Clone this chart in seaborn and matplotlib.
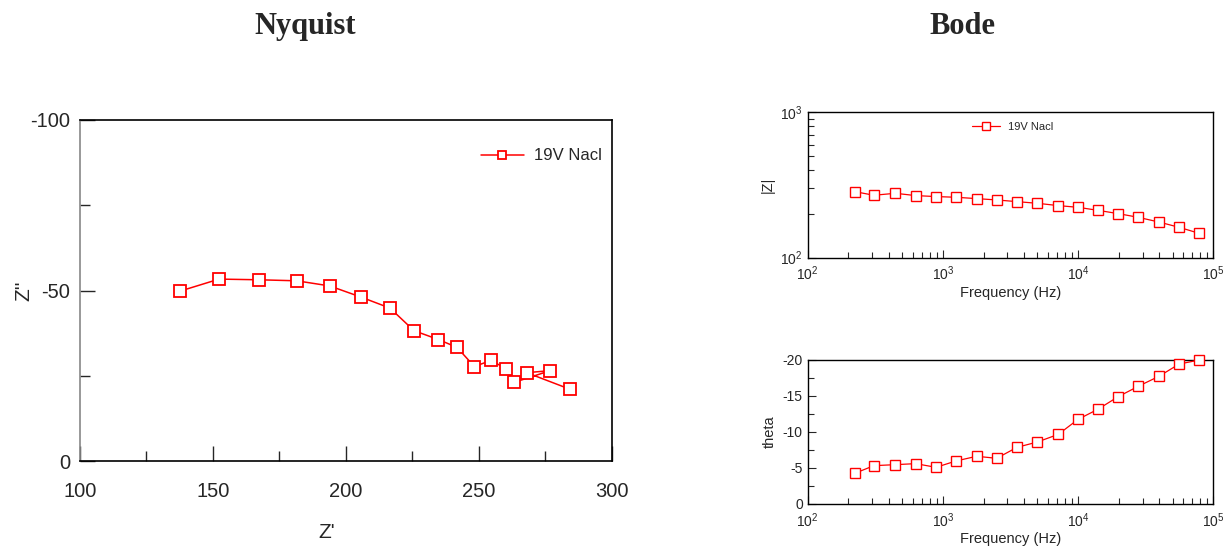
import matplotlib
matplotlib.use("Agg")
import matplotlib.pyplot as plt
import seaborn as sns
from matplotlib.ticker import MultipleLocator, LogLocator, NullFormatter

# --- data (low frequency first) ---
freq = [223, 309, 445, 629, 890, 1250, 1778, 2500, 3535, 5000,
        7140, 10000, 14000, 19800, 27800, 39600, 56000, 78700]
zmod = [284.6, 268.7, 277.2, 267.3, 263.2, 260.3, 254.8, 249.5, 242.9, 236.6,
        228.1, 222.0, 211.7, 200.9, 189.6, 175.9, 161.7, 147.0]
theta = [-4.25, -5.31, -5.45, -5.59, -5.08, -5.96, -6.61, -6.33, -7.85, -8.59,
         -9.65, -11.73, -13.12, -14.87, -16.30, -17.69, -19.40, -19.95]
z_re = [284.1, 268.0, 276.9, 268.0, 263.4, 260.3, 254.6, 248.3, 241.8, 234.8,
        225.6, 216.6, 205.8, 193.9, 181.5, 167.4, 152.3, 137.7]
z_im = [-21.2, -25.2, -26.6, -26.8, -23.2, -27.1, -29.6, -27.8, -33.4, -35.7,
        -38.3, -44.9, -48.1, -51.4, -52.9, -53.2, -53.4, -49.9]
series = "19V Nacl"

sns.set_style("white")
plt.rcParams["font.family"] = ["Liberation Sans", "DejaVu Sans"]
plt.rcParams["mathtext.fontset"] = "custom"
plt.rcParams["mathtext.rm"] = "Liberation Sans"
plt.rcParams["axes.unicode_minus"] = False

fig = plt.figure(figsize=(12.31, 5.52), dpi=100)

# --- Nyquist ---
ax1 = fig.add_axes([0.065, 0.164, 0.432, 0.6187])
sns.lineplot(x=z_re, y=z_im, sort=False, ax=ax1, color="red", lw=1.1,
             marker="s", markersize=9, markerfacecolor="white",
             markeredgecolor="red", markeredgewidth=1.3, label=series)
ax1.set_xlim(100, 300)
ax1.set_ylim(0, -100)
ax1.xaxis.set_major_locator(MultipleLocator(50))
ax1.xaxis.set_minor_locator(MultipleLocator(25))
ax1.yaxis.set_major_locator(MultipleLocator(50))
ax1.yaxis.set_minor_locator(MultipleLocator(25))
ax1.tick_params(which="both", bottom=True, left=True, direction="in", width=1)
ax1.tick_params(which="major", length=11, labelsize=14.5)
ax1.tick_params(which="minor", length=7)
ax1.tick_params(axis="x", pad=15)
ax1.tick_params(axis="y", pad=7)
ax1.set_xlabel("Z'", fontsize=15)
ax1.set_ylabel("Z''", fontsize=15)
ax1.xaxis.set_label_coords(0.464, -0.18)
ax1.yaxis.set_label_coords(-0.088, 0.5)
for s in ax1.spines.values():
    s.set_color("black")
    s.set_linewidth(1.2)
ax1.spines["left"].set_color("#888888")
ax1.legend(frameon=False, loc="upper right", bbox_to_anchor=(1.025, 0.985),
           fontsize=12, markerscale=0.7, handlelength=2.6, handletextpad=0.6,
           borderaxespad=1.0)


def bode_axes(rect):
    ax = fig.add_axes(rect)
    ax.set_xscale("log")
    ax.set_xlim(1e2, 1e5)
    ax.xaxis.set_major_locator(LogLocator(base=10))
    ax.xaxis.set_minor_locator(LogLocator(base=10, subs=range(2, 10)))
    ax.xaxis.set_minor_formatter(NullFormatter())
    for s in ax.spines.values():
        s.set_color("black")
        s.set_linewidth(1.0)
    ax.set_xlabel("Frequency (Hz)", fontsize=10.5, labelpad=2)
    return ax


def bode_ticks(ax):
    ax.tick_params(which="both", bottom=True, left=True, direction="in", width=0.8)
    ax.tick_params(which="major", length=6, labelsize=10)
    ax.tick_params(which="minor", length=4)
    ax.tick_params(axis="x", pad=5)


# --- Bode |Z| ---
ax2 = bode_axes([0.6561, 0.5332, 0.3295, 0.2634])
sns.lineplot(x=freq, y=zmod, ax=ax2, color="red", lw=0.9,
             marker="s", markersize=6.5, markerfacecolor="white",
             markeredgecolor="red", markeredgewidth=1.0, label=series,
             clip_on=False)
ax2.set_yscale("log")
ax2.set_ylim(1e2, 1e3)
ax2.yaxis.set_minor_locator(LogLocator(base=10, subs=range(2, 10)))
ax2.yaxis.set_minor_formatter(NullFormatter())
bode_ticks(ax2)
ax2.set_ylabel("|Z|", fontsize=10.5)
ax2.legend(frameon=False, loc="upper left", bbox_to_anchor=(0.38, 1.0),
           fontsize=8, markerscale=0.8, handlelength=2.5)

# --- Bode theta ---
ax3 = bode_axes([0.6561, 0.0870, 0.3295, 0.2614])
sns.lineplot(x=freq, y=theta, ax=ax3, color="red", lw=0.9,
             marker="s", markersize=6.5, markerfacecolor="white",
             markeredgecolor="red", markeredgewidth=1.0, legend=False,
             clip_on=False, zorder=5)
ax3.set_ylim(0, -20)
ax3.yaxis.set_major_locator(MultipleLocator(5))
ax3.yaxis.set_minor_locator(MultipleLocator(2.5))
bode_ticks(ax3)
ax3.set_ylabel("theta", fontsize=10.5)

# --- titles ---
fig.text(0.248, 0.952, "Nyquist", ha="center", va="center", fontsize=22,
         fontweight="bold", family=["Liberation Serif", "DejaVu Serif"])
fig.text(0.782, 0.952, "Bode", ha="center", va="center", fontsize=22,
         fontweight="bold", family=["Liberation Serif", "DejaVu Serif"])

fig.savefig("out.png", dpi=100, facecolor="white")
